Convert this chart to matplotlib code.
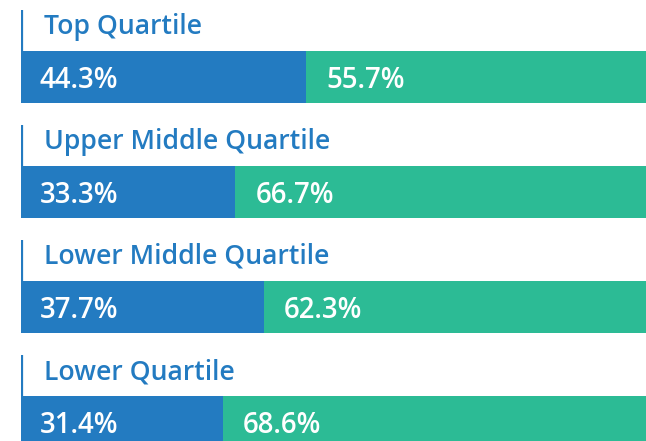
import matplotlib.pyplot as plt

# data
groups = ['Top Quartile', 'Upper Middle Quartile', 'Lower Middle Quartile', 'Lower Quartile']
blue_vals = [44.3, 33.3, 37.7, 31.4]
green_vals = [55.7, 66.7, 62.3, 68.6]

blue = '#237bc1'
green = '#2cbb95'

plt.rcParams['font.family'] = ['Open Sans', 'DejaVu Sans']

fig = plt.figure(figsize=(6.46, 4.41), dpi=100)
# bars run from x=21px, total width 644px (partly cut at the right)
ax = fig.add_axes([21 / 646, 0, 625 / 646, 1])
ax.set_xlim(0, 100 * 625 / 644)
ax.set_ylim(441, 0)
ax.axis('off')

bar_h = 52
centers = [77 + 115 * i for i in range(len(groups))]

ax.barh(centers, blue_vals, height=bar_h, color=blue, linewidth=0)
ax.barh(centers, green_vals, left=blue_vals, height=bar_h, color=green, linewidth=0)

for c, name, b, g in zip(centers, groups, blue_vals, green_vals):
    top = c - bar_h / 2
    # little vertical line on the left of the title
    ax.plot([0.15, 0.15], [top, top - 41], color=blue, lw=1.6, solid_capstyle='butt')
    ax.annotate(name, (0, top), xytext=(23, 17), textcoords='offset pixels',
                color=blue, fontsize=19.2, fontweight='semibold', va='baseline')
    ax.annotate(f'{b}%', (0, c), xytext=(19, -11), textcoords='offset pixels',
                color='white', fontsize=19.8, fontweight='semibold', va='baseline')
    ax.annotate(f'{g}%', (b, c), xytext=(20, -11), textcoords='offset pixels',
                color='white', fontsize=19.8, fontweight='semibold', va='baseline')

fig.savefig('out.png', dpi=100)
